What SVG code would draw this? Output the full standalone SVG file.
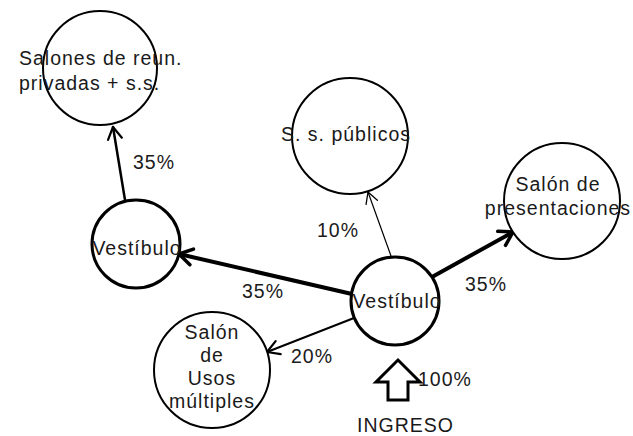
<svg xmlns="http://www.w3.org/2000/svg" width="633" height="436" viewBox="0 0 633 436">
  <style>
    .bg { fill: #ffffff; }
    .room { fill: #ffffff; stroke: #000000; stroke-width: 2; }
    .hall { fill: #ffffff; stroke: #000000; stroke-width: 3; }
    .lbl { font-family: "Liberation Sans", Arial, sans-serif; font-size: 19.5px; letter-spacing: 1px; fill: #1a1a1a; }
    .mid { text-anchor: middle; }
    .flow { fill: none; stroke: #000000; stroke-linecap: round; }
  </style>
  <defs>
    <marker id="head-thin" markerUnits="userSpaceOnUse" markerWidth="30" markerHeight="30" refX="0" refY="0" viewBox="-15 -15 30 30" orient="auto" overflow="visible">
      <path d="M -11 -6 L 0 0 L -11 6" fill="none" stroke="#000" stroke-width="1.3" stroke-linecap="round" stroke-linejoin="round"/>
    </marker>
    <marker id="head-mid" markerUnits="userSpaceOnUse" markerWidth="30" markerHeight="30" refX="0" refY="0" viewBox="-15 -15 30 30" orient="auto" overflow="visible">
      <path d="M -12 -7 L 0 0 L -12 7" fill="none" stroke="#000" stroke-width="2.2" stroke-linecap="round" stroke-linejoin="round"/>
    </marker>
    <marker id="head-thick" markerUnits="userSpaceOnUse" markerWidth="30" markerHeight="30" refX="0" refY="0" viewBox="-15 -15 30 30" orient="auto" overflow="visible">
      <path d="M -13 -8 L 0 0 L -13 8" fill="none" stroke="#000" stroke-width="3.5" stroke-linecap="round" stroke-linejoin="round"/>
    </marker>
  </defs>

  <rect class="bg" x="0" y="0" width="633" height="436"/>

  <!-- connectors: flows out of the main lobby -->
  <g id="connectors">
    <line class="flow" x1="125" y1="200" x2="113" y2="127" stroke-width="2.5" marker-end="url(#head-mid)"/>
    <line class="flow" x1="391" y1="256" x2="368" y2="192" stroke-width="1.2" marker-end="url(#head-thin)"/>
    <line class="flow" x1="432" y1="277" x2="513" y2="232" stroke-width="4" marker-end="url(#head-thick)"/>
    <line class="flow" x1="352" y1="294" x2="179" y2="254" stroke-width="4" marker-end="url(#head-thick)"/>
    <line class="flow" x1="354" y1="318" x2="267" y2="352" stroke-width="2" marker-end="url(#head-mid)"/>
    <text class="lbl" x="133" y="169">35%</text>
    <text class="lbl" x="317" y="237">10%</text>
    <text class="lbl" x="465" y="291">35%</text>
    <text class="lbl" x="242" y="298">35%</text>
    <text class="lbl" x="291" y="363">20%</text>
  </g>

  <g id="salones-reunion">
    <circle class="room" cx="100" cy="68" r="57"/>
    <text class="lbl" x="19" y="65">Salones de reun.</text>
    <text class="lbl" x="19" y="90">privadas + s.s.</text>
  </g>

  <g id="ss-publicos">
    <circle class="room" cx="350" cy="136" r="58"/>
    <text class="lbl" x="281" y="141">S. s. públicos</text>
  </g>

  <g id="salon-presentaciones">
    <circle class="room" cx="562" cy="201" r="58"/>
    <text class="lbl mid" x="558" y="191">Salón de</text>
    <text class="lbl mid" x="558" y="215">presentaciones</text>
  </g>

  <g id="vestibulo-secundario">
    <circle class="hall" cx="136" cy="244" r="44"/>
    <text class="lbl mid" x="137" y="255">Vestíbulo</text>
  </g>

  <g id="vestibulo-principal">
    <circle class="hall" cx="395" cy="301" r="44"/>
    <text class="lbl mid" x="397" y="308">Vestíbulo</text>
  </g>

  <g id="salon-usos-multiples">
    <circle class="room" cx="212" cy="370" r="58"/>
    <text class="lbl mid" x="212" y="339">Salón</text>
    <text class="lbl mid" x="212" y="362">de</text>
    <text class="lbl mid" x="212" y="385">Usos</text>
    <text class="lbl mid" x="212" y="408">múltiples</text>
  </g>

  <g id="ingreso">
    <path d="M 398 360 L 376 382 L 388 382 L 388 400 L 408 400 L 408 382 L 420 382 Z" fill="#ffffff" stroke="#000000" stroke-width="3" stroke-linejoin="miter"/>
    <text class="lbl" x="418" y="386">100%</text>
    <text class="lbl" x="357" y="432">INGRESO</text>
  </g>
</svg>
